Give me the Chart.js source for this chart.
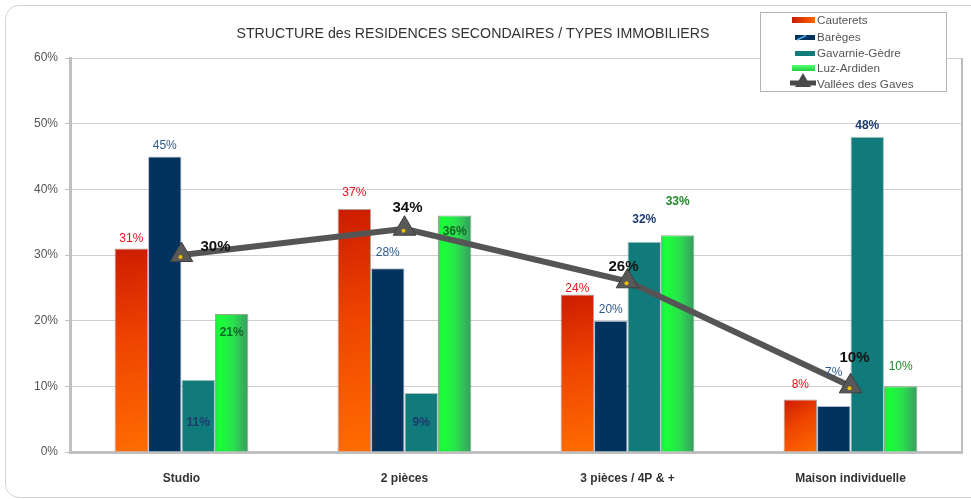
<!DOCTYPE html>
<html>
<head>
<meta charset="utf-8">
<script src="https://cdn.jsdelivr.net/npm/chart.js@4.4.0/dist/chart.umd.min.js"></script>
<style>
html, body { margin: 0; padding: 0; background: #fff; overflow: hidden; }
#frame { position: absolute; left: 5px; top: 5px; width: 1000px; height: 491px; border: 1px solid #d2d2d2; border-radius: 14px; }
#wrap { position: absolute; left: 0; top: 0; width: 971px; height: 499px; }
</style>
</head>
<body>
<div id="frame"></div>
<div id="wrap"><canvas id="chart" width="971" height="499"></canvas></div>
<script>
// Données
const categories = ['Studio', '2 pièces', '3 pièces / 4P & +', 'Maison individuelle'];
const cauterets = [31, 37, 24, 8];
const bareges = [45, 28, 20, 7];
const gavarnie = [11, 9, 32, 48];
const luzArdiden = [21, 36, 33, 10];
const vallees = [30, 34, 26, 10];
const yTicks = [0, 10, 20, 30, 40, 50, 60];
const chartTitle = 'STRUCTURE des RESIDENCES SECONDAIRES / TYPES IMMOBILIERS';

const FONT = '"Liberation Sans", Arial, sans-serif';
const CAT_PCT = 0.6;
const NB_BARS = 4;

// position d'une barre (calculée depuis les échelles)
function barBox(chart, dsIndex, i, value) {
    const xs = chart.scales.x, ys = chart.scales.y;
    const cat = xs.width / categories.length;
    const slot = cat * CAT_PCT / NB_BARS;
    const cx = xs.getPixelForValue(i) - cat * CAT_PCT / 2 + slot * (dsIndex + 0.5);
    return { left: cx - slot / 2, right: cx + slot / 2, top: ys.getPixelForValue(value), bottom: ys.getPixelForValue(0) };
}

function redFill(ctx) {
    const chart = ctx.chart;
    if (ctx.type !== 'data' || !chart.chartArea) return '#f04a00';
    const b = barBox(chart, ctx.datasetIndex, ctx.dataIndex, ctx.raw);
    const g = chart.ctx.createLinearGradient(b.left, b.top, b.right, b.bottom);
    g.addColorStop(0, '#cc1c00');
    g.addColorStop(0.45, '#ee4400');
    g.addColorStop(1, '#ff6c00');
    return g;
}

function greenFill(ctx) {
    const chart = ctx.chart;
    if (ctx.type !== 'data' || !chart.chartArea) return '#22ee44';
    const b = barBox(chart, ctx.datasetIndex, ctx.dataIndex, ctx.raw);
    const g = chart.ctx.createLinearGradient(b.left, 0, b.right, 0);
    g.addColorStop(0, '#22e844');
    g.addColorStop(0.15, '#1aff38');
    g.addColorStop(0.55, '#2ae04e');
    g.addColorStop(1, '#3a9a62');
    return g;
}

// décalage des étiquettes (px par rapport au haut de la barre)
const barLabelStyle = [
    { color: '#e3141c', bold: false, dy: [-10, -16, -6, -15] },
    { color: '#2f5b8e', bold: false, dy: [-11, -15, -11, -33] },
    { color: '#1c3a70', bold: true, dy: [43, 30, -22, -11] },
    { color: '#1f8a2a', bold: true, dy: [19, 16, -34, -20] }
];
const lineLabelShift = [[34, -8], [3, -21], [-4, -14], [4, -28]];

const decor = {
    id: 'decor',
    afterDatasetsDraw(chart) {
        const c = chart.ctx;
        c.save();
        c.textAlign = 'center';
        c.textBaseline = 'middle';
        for (let d = 0; d < NB_BARS; d++) {
            const meta = chart.getDatasetMeta(d);
            const st = barLabelStyle[d];
            meta.data.forEach((bar, i) => {
                const v = chart.data.datasets[d].data[i];
                let col = st.color;
                let bold = st.bold;
                if (d === 3 && i < 2) col = '#17652a';
                if (d === 3 && i === 3) bold = false;
                c.fillStyle = col;
                c.font = (bold ? 'bold ' : '') + '12px ' + FONT;
                c.fillText(v + '%', bar.x, bar.y + st.dy[i]);
            });
        }
        // ligne Vallées des Gaves : point jaune + étiquettes
        const lm = chart.getDatasetMeta(4);
        lm.data.forEach((pt, i) => {
            c.fillStyle = '#e8c000';
            c.beginPath();
            c.arc(pt.x - 1, pt.y + 2, 2, 0, Math.PI * 2);
            c.fill();
            c.fillStyle = '#111';
            c.font = 'bold 15px ' + FONT;
            c.fillText(vallees[i] + '%', pt.x + lineLabelShift[i][0], pt.y + lineLabelShift[i][1]);
        });
        c.restore();
    },
    afterDraw(chart) {
        const c = chart.ctx;
        const a = chart.chartArea;
        c.save();
        // bord droit
        c.strokeStyle = '#bdbdbd';
        c.lineWidth = 2;
        c.beginPath();
        c.moveTo(a.right, a.top);
        c.lineTo(a.right, a.bottom);
        c.stroke();
        // titre
        c.fillStyle = '#333';
        c.font = '14.2px ' + FONT;
        c.textAlign = 'center';
        c.textBaseline = 'middle';
        c.fillText(chartTitle, 473, 34);
        // légende
        c.fillStyle = '#fff';
        c.fillRect(760, 12, 187, 80);
        c.strokeStyle = '#b4b4b4';
        c.lineWidth = 1;
        c.strokeRect(760.5, 12.5, 186, 79);
        const names = chart.data.datasets.map(ds => ds.label);
        const rows = [20, 37, 53, 68, 84];
        // Cauterets
        let g = c.createLinearGradient(792, 0, 815, 0);
        g.addColorStop(0, '#c81c00'); g.addColorStop(1, '#ff6400');
        c.fillStyle = g; c.fillRect(792, 17, 23, 6);
        // Barèges
        c.fillStyle = '#02335f'; c.fillRect(795, 35, 20, 5);
        c.strokeStyle = '#5ab0e0'; c.lineWidth = 1.5;
        c.beginPath(); c.moveTo(797, 40); c.lineTo(806, 35.5); c.stroke();
        // Gavarnie
        c.fillStyle = '#127b7b'; c.fillRect(795, 51, 20, 5);
        // Luz
        g = c.createLinearGradient(0, 65, 0, 71);
        g.addColorStop(0, '#55ff70'); g.addColorStop(1, '#22d040');
        c.fillStyle = g; c.fillRect(792, 65, 23, 6);
        // Vallées
        c.strokeStyle = '#4a4a4a'; c.lineWidth = 5;
        c.beginPath(); c.moveTo(790, 83); c.lineTo(816, 83); c.stroke();
        c.fillStyle = '#4a4a4a';
        c.beginPath(); c.moveTo(803, 73); c.lineTo(811, 87); c.lineTo(795, 87); c.closePath(); c.fill();
        c.fillStyle = '#555';
        c.font = '11.7px ' + FONT;
        c.textAlign = 'left';
        names.forEach((n, k) => c.fillText(n, 817, rows[k] + 1));
        c.restore();
    }
};

new Chart(document.getElementById('chart'), {
    data: {
        labels: categories,
        datasets: [
            { type: 'bar', label: 'Cauterets', data: cauterets, backgroundColor: redFill, borderColor: 'rgba(150,120,110,0.7)', borderWidth: 1, order: 1 },
            { type: 'bar', label: 'Barèges', data: bareges, backgroundColor: '#02335f', borderColor: 'rgba(160,170,190,0.8)', borderWidth: 1, order: 1 },
            { type: 'bar', label: 'Gavarnie-Gèdre', data: gavarnie, backgroundColor: '#117b7b', borderColor: 'rgba(150,180,180,0.8)', borderWidth: 1, order: 1 },
            { type: 'bar', label: 'Luz-Ardiden', data: luzArdiden, backgroundColor: greenFill, borderColor: 'rgba(120,150,120,0.8)', borderWidth: 1, order: 1 },
            {
                type: 'line', label: 'Vallées des Gaves', data: vallees, order: 0,
                borderColor: '#555', borderWidth: 6, tension: 0,
                pointStyle: 'triangle', pointRadius: 13, pointBackgroundColor: '#585858',
                pointBorderColor: '#3e3e3e', pointBorderWidth: 1
            }
        ]
    },
    options: {
        responsive: false,
        animation: false,
        layout: { autoPadding: false, padding: { left: 0, right: 9, top: 58, bottom: 0 } },
        datasets: { bar: { categoryPercentage: CAT_PCT, barPercentage: 1 } },
        plugins: { legend: { display: false }, tooltip: { enabled: false }, title: { display: false } },
        scales: {
            x: {
                grid: { display: false },
                border: { display: true, color: '#c0c0c0', width: 3 },
                ticks: { color: '#333', font: { family: FONT, size: 12, weight: 'bold' }, padding: 11, maxRotation: 0 },
                afterFit: s => { s.height = 47; s.paddingLeft = 0; s.paddingRight = 0; }
            },
            y: {
                min: 0, max: 60,
                afterBuildTicks: s => { s.ticks = yTicks.map(v => ({ value: v })); },
                grid: { color: '#d0d0d0', lineWidth: 1, tickLength: 5, tickColor: '#c0c0c0' },
                border: { display: true, color: '#c0c0c0', width: 3 },
                ticks: { color: '#555', font: { family: FONT, size: 12 }, padding: 7, callback: v => v + '%' },
                afterFit: s => { s.width = 70; }
            }
        }
    },
    plugins: [decor]
});
</script>
</body>
</html>
